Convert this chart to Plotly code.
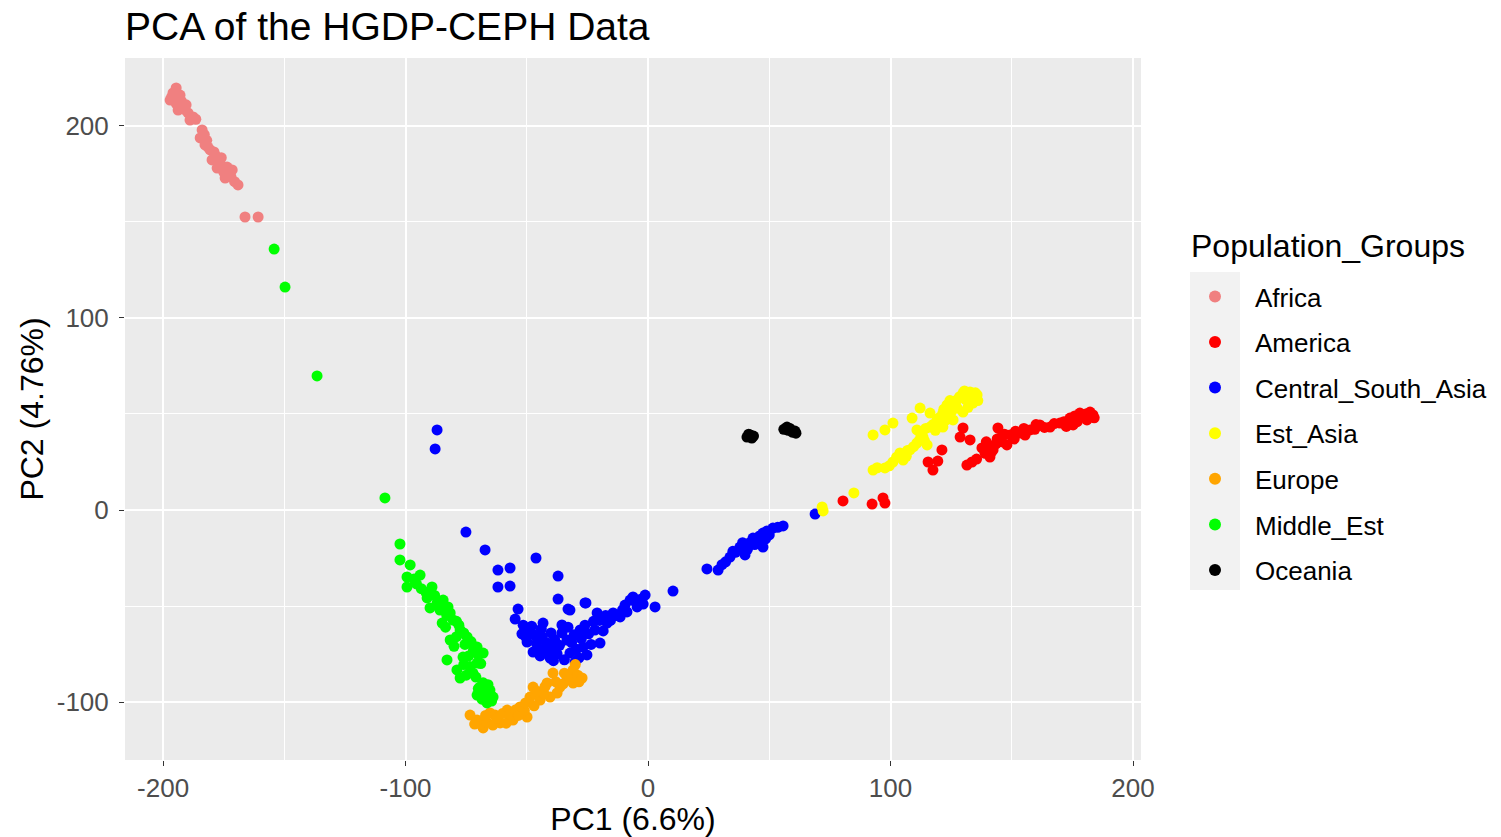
import plotly.graph_objects as go

groups = ["Africa", "America", "Central_South_Asia", "Est_Asia", "Europe", "Middle_Est", "Oceania"]
colors = ["#F08080", "#FF0000", "#0000FF", "#FFFF00", "#FFA500", "#00FF00", "#000000"]

africa_x = [-195.9, -197.1, -193.0, -194.6, -191.8, -193.8, -189.7, -187.6, -188.9, -183.9, -184.7, -182.7,
            -180.6, -178.6, -179.8, -176.5, -177.7, -173.6, -171.5, -174.4, -169.1, -166.2, -160.8,
            -196.5, -195.0, -192.5, -194.5, -191.0, -190.5, -186.5, -183.0, -182.0, -181.5, -179.0,
            -177.5, -176.0, -175.5, -175.0, -172.5, -170.5, -172.0]
africa_y = [217.2, 213.5, 216.1, 219.8, 210.9, 208.3, 206.8, 204.7, 203.1, 197.9, 193.8, 190.1,
            187.5, 184.9, 182.3, 180.7, 178.1, 178.6, 177.1, 172.9, 169.3, 152.6, 152.6,
            215.0, 214.0, 213.0, 211.5, 208.5, 211.0, 203.5, 195.5, 192.5, 189.0, 186.5,
            182.5, 183.5, 178.5, 176.0, 175.0, 171.0, 173.5]

america_x = [80.4, 92.4, 96.9, 97.7, 115.5, 117.5, 121.2, 128.7, 129.9, 132.8, 131.5, 133.6, 137.7, 140.2,
             141.0, 144.3, 145.2, 149.3, 153.4, 157.5, 161.6, 165.8, 169.9, 174.0, 178.1, 182.3, 181.0,
             175.3, 148.0, 142.3,
             119.5, 139.0, 141.5, 143.5, 146.0, 147.0, 151.0, 151.5, 155.5, 155.0, 159.5, 160.0, 163.5,
             167.5, 171.5, 172.5, 176.0, 177.0, 179.5, 180.5, 183.5, 184.0, 144.0, 139.5, 135.5]
america_y = [4.7, 3.1, 6.3, 3.6, 25.0, 20.8, 31.3, 38.0, 42.7, 36.5, 23.4, 25.0, 32.3, 33.9,
             27.6, 42.7, 37.5, 39.1, 40.1, 41.7, 44.3, 43.2, 45.3, 47.9, 50.5, 51.0, 46.9,
             44.3, 33.9, 31.3,
             25.5, 29.5, 30.0, 34.5, 35.5, 39.5, 37.0, 41.0, 39.0, 42.5, 42.0, 44.5, 43.0,
             45.0, 46.0, 43.5, 49.0, 46.0, 48.5, 50.0, 49.5, 48.0, 37.0, 35.5, 26.5]

csa_x = [-87.0, -87.8, -75.1, -67.2, -61.9, -56.9, -61.9, -56.9, -46.2, -37.1, -37.1, -33.0, -25.6,
         -53.6, -54.8, -49.5, -49.9, -47.4, -43.3, -43.7, -40.4, -39.2, -35.5, -33.4, -32.2, -28.0,
         -26.8, -25.2, -21.0, -21.9, -19.8, -16.9, -14.4, -8.7, -7.4, -6.2, -1.2, -4.5, 2.9, -11.5,
         -32.2, -26.0, -30.1, 10.3, 24.3, 28.9, 33.8, 37.9, 40.0, 43.3, 47.4, 47.4, 51.5, 55.7,
         36.0, 42.0, 45.0, 50.0, 68.9,
         -51.5, -52.0, -50.5, -48.0, -47.0, -46.0, -45.0, -44.0, -42.0, -41.5, -40.0, -38.5, -37.5,
         -36.5, -35.5, -34.5, -31.5, -30.5, -29.5, -28.5, -27.5, -24.5, -23.5, -22.5, -20.0, -18.5,
         -17.5, -15.5, -13.0, -10.5, -9.5, -5.5, -3.0, -2.0, -26.0, -33.0, -39.0, -44.5,
         30.5, 32.0, 35.0, 38.5, 39.0, 41.0, 44.0, 46.0, 48.5, 49.0, 53.5]
csa_y = [41.7, 31.8, -11.5, -20.8, -31.3, -30.2, -40.1, -39.6, -25.0, -34.4, -46.4, -51.6, -48.4,
         -51.6, -56.8, -62.5, -68.8, -74.0, -58.9, -66.1, -77.1, -71.4, -59.9, -67.7, -74.5, -62.5,
         -71.4, -75.5, -53.6, -62.5, -69.3, -58.9, -53.6, -53.1, -46.9, -45.3, -44.3, -50.5, -50.5, -55.7,
         -52.1, -48.4, -79.2, -42.2, -30.7, -31.3, -24.5, -19.3, -23.4, -14.6, -12.0, -19.3, -9.4, -8.3,
         -22.0, -17.0, -16.0, -13.0, -2.1,
         -60.0, -64.5, -66.0, -60.5, -65.0, -69.5, -72.5, -62.0, -69.0, -73.5, -64.0, -67.5, -75.0,
         -70.5, -64.0, -78.0, -69.0, -65.0, -72.5, -77.0, -67.0, -64.5, -70.0, -58.0, -57.5, -63.0,
         -55.0, -57.5, -55.0, -52.0, -49.5, -47.5, -46.5, -49.0, -60.0, -61.0, -78.5, -76.0,
         -28.5, -27.0, -21.5, -21.0, -17.0, -20.5, -18.0, -13.5, -15.0, -11.0, -9.0]

est_asia_x = [71.8, 72.2, 84.9, 92.8, 97.7, 101.0, 105.2, 103.9, 108.0, 110.9, 113.4, 115.1, 110.9,
              116.3, 119.2, 121.6, 123.3, 127.4, 129.9, 132.8, 135.7, 134.0, 129.9, 125.8, 121.6,
              92.8, 97.7, 101.0, 108.9, 112.2, 116.3,
              94.5, 99.5, 102.5, 106.5, 107.0, 109.5, 112.0, 114.0, 112.5, 114.5, 117.5, 118.5, 120.0,
              123.0, 122.0, 125.0, 126.0, 127.5, 128.5, 131.0, 132.0, 133.5, 130.5, 135.0, 136.0, 124.5]
est_asia_y = [1.6, -0.5, 8.9, 20.8, 21.9, 25.0, 26.0, 29.7, 31.3, 34.9, 38.0, 33.9, 41.7,
              43.2, 46.9, 50.5, 54.7, 57.3, 60.9, 61.5, 59.9, 55.7, 51.0, 46.9, 43.2,
              39.1, 41.7, 45.3, 47.9, 53.1, 50.5,
              22.0, 23.0, 27.5, 28.0, 31.0, 33.0, 36.5, 36.0, 39.5, 42.5, 44.5, 41.5, 48.0,
              47.0, 52.5, 51.0, 55.0, 53.0, 59.0, 57.5, 53.5, 58.0, 62.0, 61.0, 57.0, 57.0]

europe_x = [-70.5, -68.0, -65.2, -61.0, -58.1, -55.7, -52.8, -49.9, -48.7, -47.4, -44.5, -41.6, -39.2,
            -40.4, -36.3, -33.4, -30.9, -27.2, -30.9, -37.5, -63.1, -73.4,
            -69.0, -66.5, -64.0, -62.5, -60.0, -58.5, -57.0, -54.5, -53.5, -51.0, -50.5, -47.0, -46.5,
            -45.5, -43.0, -42.5, -38.0, -35.0, -34.5, -32.0, -29.0, -28.5, -30.0, -67.0, -71.5]
europe_y = [-109.4, -113.5, -105.7, -110.9, -104.2, -109.4, -102.6, -107.8, -97.4, -92.2, -99.0, -90.1, -84.9,
            -97.4, -92.2, -87.0, -83.3, -87.5, -90.1, -95.3, -106.8, -106.8,
            -111.5, -110.5, -112.0, -108.5, -106.0, -111.0, -106.5, -104.0, -107.0, -104.5, -100.5, -102.0, -96.0,
            -94.5, -95.5, -92.0, -89.5, -90.5, -85.0, -88.5, -86.0, -89.5, -80.5, -107.0, -111.5]

middle_est_x = [-154.2, -149.7, -136.5, -108.5, -102.3, -102.3, -98.1, -99.4, -94.0, -99.4, -89.1, -91.1,
                -84.5, -89.9, -85.8, -81.6, -84.9, -80.4, -77.5, -74.6, -81.6, -70.5, -68.0, -82.9,
                -76.3, -70.5, -78.8, -72.2, -77.5, -69.3, -65.2, -70.5, -63.9, -66.4,
                -96.5, -95.5, -93.5, -91.5, -88.0, -87.0, -86.0, -83.0, -82.5, -79.0, -78.0, -76.0,
                -79.0, -73.0, -75.5, -72.0, -74.0, -70.0, -76.0, -73.5, -69.0, -75.0, -71.0, -68.0,
                -67.0, -65.0, -68.5, -66.0, -64.5, -70.0, -80.0, -83.5]
middle_est_y = [135.9, 116.1, 69.8, 6.3, -17.7, -26.0, -28.6, -34.9, -33.9, -40.1, -40.1, -45.8,
                -46.9, -51.0, -52.1, -53.6, -58.9, -57.3, -62.5, -66.1, -67.7, -71.4, -74.5, -78.1,
                -76.6, -79.7, -83.3, -84.9, -87.5, -92.2, -93.8, -96.4, -97.4, -100.5,
                -36.0, -38.5, -41.0, -43.0, -44.5, -48.5, -50.0, -55.0, -50.5, -58.0, -60.0, -64.0,
                -66.0, -68.5, -70.0, -73.0, -76.0, -75.5, -80.5, -81.5, -80.0, -86.0, -87.0, -90.0,
                -95.0, -96.0, -98.5, -91.0, -99.5, -93.0, -71.0, -61.0]

oceania_x = [42.1, 40.8, 43.5, 41.5, 42.8, 57.3, 60.6, 58.5, 59.5, 56.0, 61.0, 57.8]
oceania_y = [39.1, 38.0, 38.5, 39.5, 37.5, 43.2, 41.1, 42.5, 40.5, 42.0, 40.0, 41.5]

xs = [africa_x, america_x, csa_x, est_asia_x, europe_x, middle_est_x, oceania_x]
ys = [africa_y, america_y, csa_y, est_asia_y, europe_y, middle_est_y, oceania_y]

x_ticks = [-200, -100, 0, 100, 200]
y_ticks = [-100, 0, 100, 200]

fig = go.Figure()
for g, c, x, y in zip(groups, colors, xs, ys):
    fig.add_trace(go.Scatter(x=x, y=y, mode="markers", name=g, legendgroup=g,
                             marker=dict(color=c, size=11, line=dict(width=0))))

font_family = "Liberation Sans, Arial, sans-serif"
W, H = 1501, 837
ml, mt = 125, 58
pw, ph = 1016, 702
mr, mb = W - ml - pw, H - mt - ph

def px_x(p):
    return (p - ml) / pw

def px_y(p):
    return (mt + ph - p) / ph

fig.update_layout(
    width=W, height=H,
    margin=dict(l=ml, r=mr, t=mt, b=mb, autoexpand=False),
    paper_bgcolor="white", plot_bgcolor="#EBEBEB",
    font=dict(family=font_family, color="#000000"),
    title=dict(text="PCA of the HGDP-CEPH Data", x=125 / W, xref="container", xanchor="left",
               y=1 - 26 / H, yref="container", yanchor="middle",
               font=dict(size=39, color="black", family=font_family)),
    legend=dict(font=dict(size=26, color="black"), x=px_x(1175), xanchor="left",
                y=px_y(273), yanchor="top", bgcolor="rgba(0,0,0,0)",
                traceorder="grouped", tracegroupgap=8.8, itemsizing="constant", itemwidth=70),
    annotations=[dict(text="Population_Groups", xref="paper", yref="paper",
                      x=px_x(1189), y=px_y(246), xanchor="left", yanchor="middle",
                      showarrow=False, font=dict(size=32, color="black"))],
    shapes=[dict(type="rect", xref="paper", yref="paper",
                 x0=px_x(1190), x1=px_x(1240), y0=px_y(590), y1=px_y(272),
                 fillcolor="#F2F2F2", line=dict(width=0), layer="below")],
    xaxis=dict(range=[-215.7, 203.3], tickvals=x_ticks, ticktext=[str(v) for v in x_ticks],
               showgrid=True, gridcolor="white", gridwidth=1.6, zeroline=False,
               ticks="outside", ticklen=5, tickcolor="#333333", tickwidth=1.2,
               tickfont=dict(size=26, color="#4D4D4D"),
               minor=dict(tickvals=[-150, -50, 50, 150], showgrid=True, gridcolor="white", gridwidth=0.8, ticks=""),
               title=dict(text="PC1 (6.6%)", font=dict(size=32, color="black"), standoff=4),
               showline=False),
    yaxis=dict(range=[-130.2, 235.4], tickvals=y_ticks, ticktext=[str(v) for v in y_ticks],
               showgrid=True, gridcolor="white", gridwidth=1.6, zeroline=False,
               ticks="outside", ticklen=5, tickcolor="#333333", tickwidth=1.2,
               tickfont=dict(size=26, color="#4D4D4D"), ticklabelstandoff=5,
               minor=dict(tickvals=[-50, 50, 150], showgrid=True, gridcolor="white", gridwidth=0.8, ticks=""),
               title=dict(text="PC2 (4.76%)", font=dict(size=32, color="black"), standoff=3),
               showline=False),
)

fig.write_html("out.html", config={"displayModeBar": False},
               post_script="document.body.style.margin='0';")
